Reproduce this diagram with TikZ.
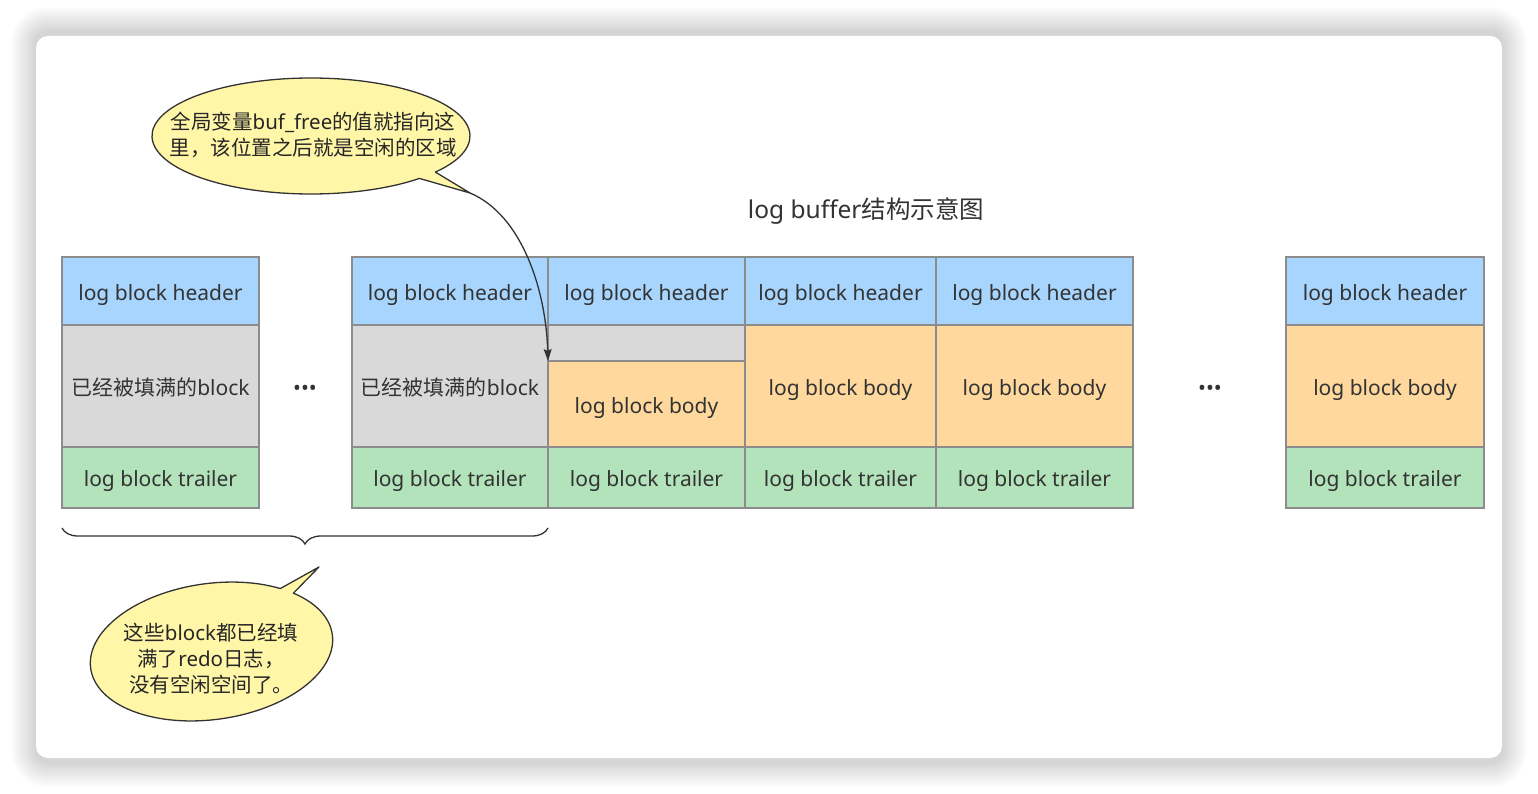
\documentclass[tikz,border=0pt]{standalone}
\usepackage{fontspec}
\setmainfont{Noto Sans}
\newfontfamily\cjk{Noto Sans CJK SC}
\usepackage{xcolor}
\usepackage{tikz}
\usetikzlibrary{positioning,arrows.meta,decorations.pathreplacing}

\definecolor{hdrblue}{HTML}{A7D5FE}
\definecolor{bdyorange}{HTML}{FFD89D}
\definecolor{trlgreen}{HTML}{B3E3BA}
\definecolor{fullgray}{HTML}{D9D9D9}
\definecolor{cellline}{HTML}{8C8C8C}
\definecolor{notefill}{HTML}{FFF6A8}
\definecolor{inkgray}{HTML}{333333}

\begin{document}
\begin{tikzpicture}[x=1pt, y=1pt,
  cell/.style={draw=cellline, line width=1.2pt, inner sep=0pt, outer sep=0pt, text=inkgray, font=\fontsize{21}{25}\selectfont, text height=22pt, text depth=4pt, minimum width=197pt},
  hdr/.style={cell, fill=hdrblue, minimum height=68pt},
  bdy/.style={cell, fill=bdyorange, minimum height=122pt},
  fullblk/.style={cell, fill=fullgray, minimum height=122pt},
  trl/.style={cell, fill=trlgreen, minimum height=61pt},
  callout/.style={draw=inkgray, fill=notefill, line width=1.3pt, line join=round},
  notetext/.style={align=center, text=black!85, font=\cjk\fontsize{20.5}{26}\selectfont},
  titletext/.style={text=inkgray, font=\fontsize{24.5}{29}\selectfont},
  gapdots/.style={text=inkgray, font=\fontsize{21}{25}\selectfont},
  pointer/.style={draw=inkgray, line width=1.3pt, -{Stealth[length=12pt, width=8pt, inset=2pt]}},
  bracket/.style={draw=inkgray, line width=1.3pt, decorate, decoration={brace, mirror, amplitude=16pt}}]

\useasboundingbox (0,0) rectangle (1538,-794);
\fill[white] (0,0) rectangle (1538,-794);
\foreach \s [evaluate=\s as \rad using 12+1.8*\s] in {1,...,14}
  \fill[black, opacity=0.011, rounded corners=\rad pt] (36-1.8*\s,-32+1.8*\s) rectangle (1502+1.8*\s,-762-1.8*\s);
\fill[white, rounded corners=12pt] (36,-36) rectangle (1502,-758);

\node[titletext] (title) at (866,-211) {log buffer{\cjk 结构示意图}};

\node[hdr] (hA) at (160.5,-291) {log block header};
\node[fullblk] (mA) at (160.5,-386) {{\cjk 已经被填满的}block};
\node[trl] (tA) at (160.5,-477.5) {log block trailer};

\node[gapdots] (gapL) at (305,-390) {•••};

\node[hdr, minimum width=196pt] (hB) at (450,-291) {log block header};
\node[fullblk, minimum width=196pt] (mB) at (450,-386) {{\cjk 已经被填满的}block};
\node[trl, minimum width=196pt] (tB) at (450,-477.5) {log block trailer};

\node[hdr] (hC) at (646.5,-291) {log block header};
\node[cell, fill=fullgray, minimum height=36pt, text height=0pt, text depth=0pt] (gC) at (646.5,-343) {};
\node[bdy, minimum height=86pt] (mC) at (646.5,-404) {log block body};
\node[trl] (tC) at (646.5,-477.5) {log block trailer};

\node[hdr, minimum width=191pt] (hD) at (840.5,-291) {log block header};
\node[bdy, minimum width=191pt] (mD) at (840.5,-386) {log block body};
\node[trl, minimum width=191pt] (tD) at (840.5,-477.5) {log block trailer};

\node[hdr] (hE) at (1034.5,-291) {log block header};
\node[bdy] (mE) at (1034.5,-386) {log block body};
\node[trl] (tE) at (1034.5,-477.5) {log block trailer};

\node[gapdots] (gapR) at (1210,-390) {•••};

\node[hdr, minimum width=198pt] (hF) at (1385,-291) {log block header};
\node[bdy, minimum width=198pt] (mF) at (1385,-386) {log block body};
\node[trl, minimum width=198pt] (tF) at (1385,-477.5) {log block trailer};

\coordinate (tipA) at (470,-193);
\coordinate (tipB) at (319,-567);
\coordinate (braceL) at (62,-528);
\coordinate (braceR) at (548,-528);

\draw[callout] (311,-136) ++(-38.5:159 and 58) arc[start angle=-38.5, end angle=313, x radius=159, y radius=58] -- (tipA) -- cycle;
\node[notetext] (noteA) at (313,-135) {全局变量{\rmfamily buf\_free}的值就指向这\\里，该位置之后就是空闲的区域};

\draw[bracket] (braceL) -- (braceR);

\draw[callout, rotate around={8:(211.5,-651.5)}] (211.5,-651.5) ++(50.9:122 and 68) arc[start angle=50.9, end angle=403, x radius=122, y radius=68] -- (tipB) -- cycle;
\node[notetext] (noteB) at (211,-659) {这些{\rmfamily block}都已经填\\满了{\rmfamily redo}日志，\\没有空闲空间了。};

\draw[pointer] (tipA) .. controls (522,-215) and (546,-290) .. (mC.north west);

\end{tikzpicture}
\end{document}
